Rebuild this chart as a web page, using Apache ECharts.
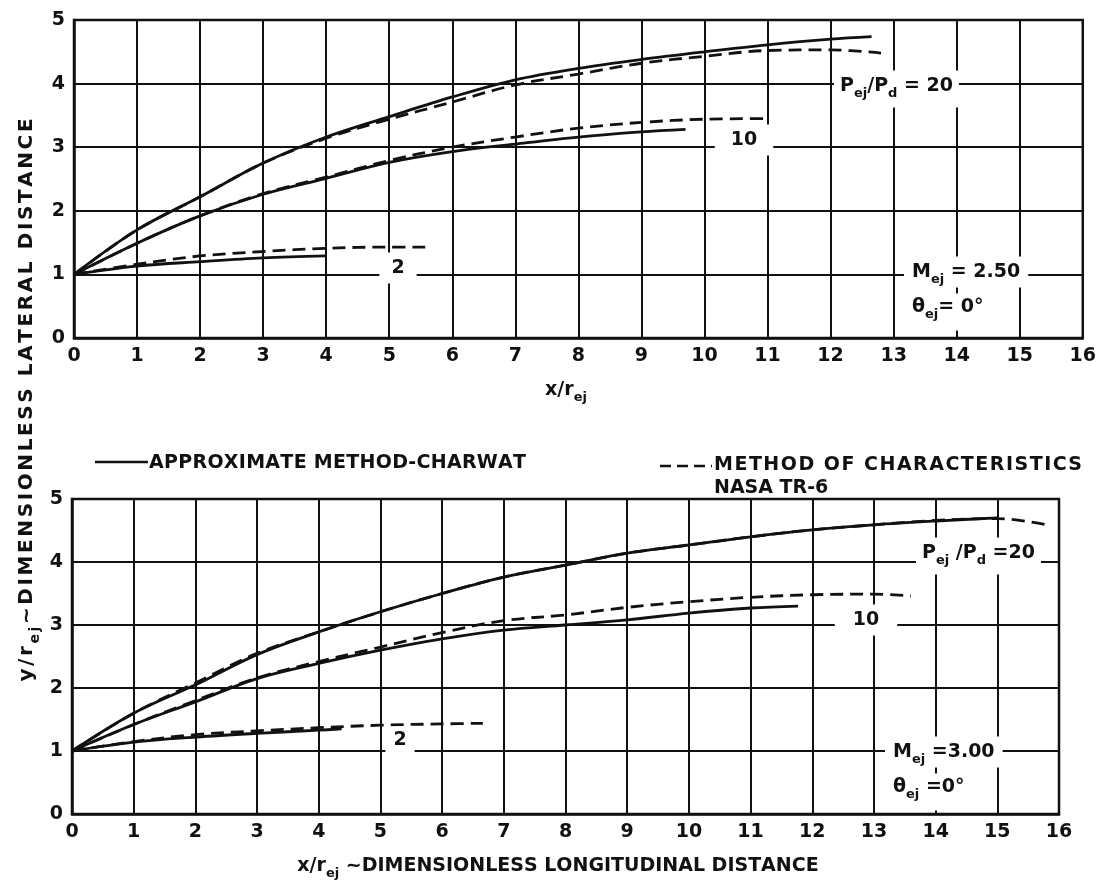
<!DOCTYPE html>
<html><head><meta charset="utf-8">
<script src="https://cdn.jsdelivr.net/npm/echarts@6/dist/echarts.min.js"></script>
<style>html,body{margin:0;padding:0;background:#fff}#c{width:1099px;height:890px}</style>
</head><body><div id="c"></div>
<script>
// ---- data (x/r_ej, y/r_ej) ----
const xTicks = [0,1,2,3,4,5,6,7,8,9,10,11,12,13,14,15,16];
const yTicks = [0,1,2,3,4,5];
// Panel 1: M_ej = 2.50
const m250Approx20 = [[0,1],[1,1.70],[2,2.22],[3,2.75],[4,3.16],[5,3.48],[6,3.79],[7,4.06],[8,4.24],[9,4.38],[10,4.50],[11,4.61],[12,4.70],[12.65,4.74]];
const m250Char20   = [[0,1],[1,1.70],[2,2.22],[3,2.75],[4,3.14],[5,3.44],[6,3.71],[7,3.98],[8,4.15],[9,4.32],[10,4.43],[11,4.52],[12,4.53],[12.8,4.48]];
const m250Approx10 = [[0,1],[1,1.49],[2,1.92],[3,2.26],[4,2.51],[5,2.76],[6,2.93],[7,3.05],[8,3.16],[9,3.24],[9.7,3.28]];
const m250Char10   = [[0,1],[1,1.49],[2,1.92],[3,2.27],[4,2.53],[5,2.79],[6,3.0],[7,3.16],[8,3.30],[9,3.39],[10,3.44],[11,3.45]];
const m250Approx2  = [[0,1],[1,1.13],[2,1.20],[3,1.26],[4,1.29]];
const m250Char2    = [[0,1],[1,1.16],[2,1.29],[3,1.36],[4,1.41],[5,1.43],[5.57,1.43]];
// Panel 2: M_ej = 3.00
const m300Approx20 = [[0,1],[1,1.60],[2,2.05],[3,2.53],[4,2.89],[5,3.21],[6,3.50],[7,3.76],[8,3.95],[9,4.14],[10,4.27],[11,4.40],[12,4.51],[13,4.59],[14,4.65],[15,4.70]];
const m300Char20   = [[0,1],[1,1.60],[2,2.08],[3,2.55],[4,2.89],[5,3.21],[6,3.50],[7,3.76],[8,3.95],[9,4.14],[10,4.27],[11,4.40],[12,4.51],[13,4.59],[14,4.66],[15,4.69],[15.8,4.59]];
const m300Approx10 = [[0,1],[1,1.42],[2,1.78],[3,2.15],[4,2.39],[5,2.60],[6,2.78],[7,2.92],[8,3.0],[9,3.08],[10,3.19],[11,3.27],[11.77,3.30]];
const m300Char10   = [[0,1],[1,1.42],[2,1.80],[3,2.16],[4,2.42],[5,2.65],[6,2.88],[7,3.07],[8,3.16],[9,3.28],[10,3.37],[11,3.44],[12,3.48],[13,3.49],[13.6,3.46]];
const m300Approx2  = [[0,1],[1,1.14],[2,1.22],[3,1.28],[4,1.33],[4.37,1.35]];
const m300Char2    = [[0,1],[1,1.15],[2,1.26],[3,1.32],[4,1.37],[5,1.41],[6,1.43],[6.66,1.44]];

const F = 'DejaVu Sans';
const INK = '#111';
const chart = echarts.init(document.getElementById('c'), null, {renderer:'canvas'});
const ctx = document.createElement('canvas').getContext('2d');
function tw(t,size){ctx.font='bold '+size+'px "'+F+'"';return ctx.measureText(t).width;}

// Build a text label with subscripts: parts = [[text, isSub], ...]
function rt(parts,x,y,o){
  o=o||{};
  const fs=o.fs||19, ss=o.ss||Math.round(fs*0.7), ls=o.ls||0, sub=o.sub||Math.round(fs*0.4);
  const items=[];let cx=0;
  parts.forEach(function(p){
    const size=p[1]?ss:fs;
    for(const ch of p[0]){
      items.push({ch:ch,x:cx,size:size,dy:p[1]?sub:0});
      cx+=tw(ch,size)+ls;
    }
  });
  const W=cx-ls;
  const off=o.align==='center'?-W/2:(o.align==='right'?-W:0);
  const children=[];
  if(o.bg){
    const b=o.bg;
    children.push({type:'rect',z:100,shape:{x:off-b[1],y:-fs/2-b[0],width:W+2*b[1],height:fs+b[0]+b[2]},style:{fill:'#fff'}});
  }
  items.forEach(function(it){
    children.push({type:'text',z:101,x:off+it.x,y:it.dy,style:{text:it.ch,fill:INK,font:'bold '+it.size+'px "'+F+'"',align:'left',verticalAlign:'middle'}});
  });
  return {type:'group',x:x,y:y,rotation:o.rot||0,z:100,children:children};
}

function xAx(g){return {type:'value',gridIndex:g,min:0,max:16,interval:1,
  axisLine:{show:true,onZero:false,lineStyle:{color:INK,width:2.5}},axisTick:{show:false},
  splitLine:{show:true,lineStyle:{color:INK,width:2}},
  axisLabel:{color:INK,fontSize:19,fontWeight:'bold',fontFamily:F,margin:9}};}
function yAx(g){return {type:'value',gridIndex:g,min:0,max:5,interval:1,
  axisLine:{show:true,onZero:false,lineStyle:{color:INK,width:2.5}},axisTick:{show:false},
  splitLine:{show:true,lineStyle:{color:INK,width:2}},
  axisLabel:{color:INK,fontSize:19,fontWeight:'bold',fontFamily:F,margin:9}};}
function ser(data,g,dashed){return {type:'line',data:data,xAxisIndex:g,yAxisIndex:g,showSymbol:false,smooth:0.35,
  silent:true,z:3,lineStyle:{color:INK,width:2.8,type:dashed?[13,7]:'solid'}};}

chart.setOption({
  animation:false,
  backgroundColor:'#fff',
  grid:[
    {left:74,top:20,width:1016,height:318,show:true,borderColor:INK,borderWidth:2.5},
    {left:72,top:499,width:987,height:315,show:true,borderColor:INK,borderWidth:2.5}
  ],
  xAxis:[xAx(0),xAx(1)],
  yAxis:[yAx(0),yAx(1)],
  series:[
    ser(m250Approx20,0,false),ser(m250Char20,0,true),
    ser(m250Approx10,0,false),ser(m250Char10,0,true),
    ser(m250Approx2,0,false),ser(m250Char2,0,true),
    ser(m300Approx20,1,false),ser(m300Char20,1,true),
    ser(m300Approx10,1,false),ser(m300Char10,1,true),
    ser(m300Approx2,1,false),ser(m300Char2,1,true)
  ],
  graphic:[
    // panel 1 labels
    rt([['2',0]],398,268,{align:'center',bg:[6,12,6]}),
    rt([['10',0]],744,140,{align:'center',bg:[6,16,6]}),
    rt([['P',0],['ej',1],['/P',0],['d',1],[' = 20',0]],840,86,{bg:[6,6,12]}),
    rt([['M',0],['ej',1],[' = 2.50',0]],912,272,{bg:[6,8,6]}),
    rt([['θ',0],['ej',1],['= 0°',0]],912,307,{bg:[4,8,14]}),
    rt([['x/r',0],['ej',1]],566,390,{align:'center'}),
    // panel 2 labels
    rt([['2',0]],400,740,{align:'center',bg:[4,8,4]}),
    rt([['10',0]],866,620,{align:'center',bg:[6,18,6]}),
    rt([['P',0],['ej',1],[' /P',0],['d',1],[' =20',0]],922,553,{bg:[6,6,12]}),
    rt([['M',0],['ej',1],[' =3.00',0]],893,752,{bg:[6,8,6]}),
    rt([['θ',0],['ej',1],[' =0°',0]],893,787,{bg:[4,8,14]}),
    rt([['x/r',0],['ej',1],[' ~DIMENSIONLESS LONGITUDINAL DISTANCE',0]],558,866,{align:'center'}),
    // y axis title
    rt([['y/r',0],['ej',1],['~DIMENSIONLESS LATERAL DISTANCE',0]],27,400,{align:'center',rot:Math.PI/2,ls:2.6,fs:20}),
    // legend
    {type:'line',z:100,shape:{x1:95,y1:462,x2:148,y2:462},style:{stroke:INK,lineWidth:2.5}},
    rt([['APPROXIMATE METHOD-CHARWAT',0]],149,463,{ls:0.3}),
    {type:'line',z:100,shape:{x1:660,y1:466,x2:712,y2:466},style:{stroke:INK,lineWidth:2.5,lineDash:[11,6]}},
    rt([['METHOD OF CHARACTERISTICS',0]],714,465,{ls:1.5}),
    rt([['NASA TR-6',0]],714,488,{})
  ]
});
</script></body></html>
